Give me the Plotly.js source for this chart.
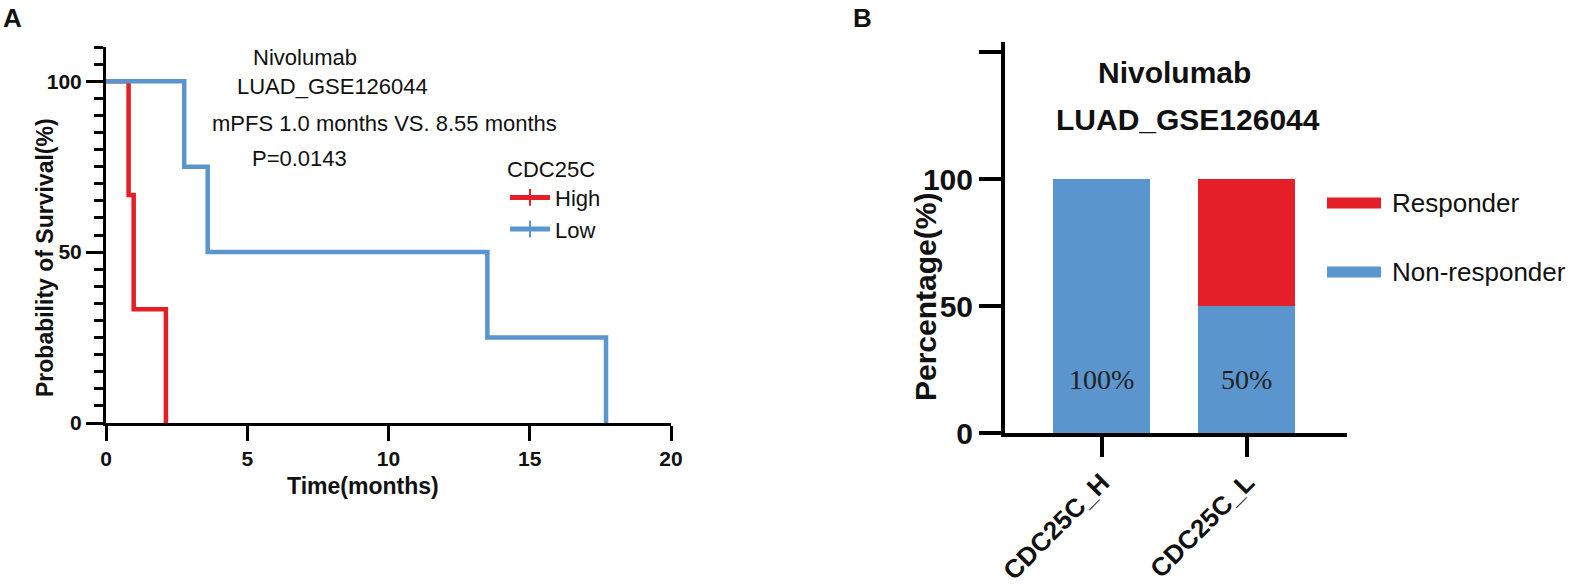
<!DOCTYPE html>
<html>
<head>
<meta charset="utf-8">
<script src="https://cdn.plot.ly/plotly-3.0.1.min.js"></script>
<style>
  html, body { margin: 0; padding: 0; background: #fff; }
  #chart { width: 1571px; height: 584px; }
</style>
</head>
<body>
<div id="chart"></div>
<script>
// Panel A: Kaplan-Meier, PFS by CDC25C expression
const highTime = [0, 0.8, 0.98, 2.12];
const highSurv = [100, 66.7, 33.3, 0];
const lowTime = [0, 2.77, 3.6, 13.5, 17.7];
const lowSurv = [100, 75, 50, 25, 0];
const kmGroups = ["High", "Low"];
const kmNotes = ["Nivolumab", "LUAD_GSE126044", "mPFS 1.0 months VS. 8.55 months", "P=0.0143"];

// Panel B: response rate by group
const groups = ["CDC25C_H", "CDC25C_L"];
const nonResponder = [100, 50];
const responder = [0, 50];
const seriesNames = ["Responder", "Non-responder"];

const RED = "#e41f27";
const BLUE = "#5a96cd";
const FONT = "Liberation Sans, Arial, sans-serif";

const W = 1571, H = 584;
const px = (x) => x / W;
const py = (y) => 1 - y / H;

const bold = (size) => ({ family: FONT, size, color: "#111", weight: "bold" });
const plain = (size) => ({ family: FONT, size, color: "#111" });

const traces = [
  {
    x: highTime, y: highSurv, name: kmGroups[0],
    type: "scatter", mode: "lines+markers", line: { shape: "hv", color: RED, width: 4.5 },
    marker: { symbol: "line-ns-open", size: 0.01, line: { color: RED, width: 3 } },
    cliponaxis: false, xaxis: "x", yaxis: "y",
  },
  {
    x: lowTime, y: lowSurv, name: kmGroups[1],
    type: "scatter", mode: "lines+markers", line: { shape: "hv", color: BLUE, width: 4.5 },
    marker: { symbol: "line-ns-open", size: 0.01, line: { color: BLUE, width: 3 } },
    cliponaxis: false, xaxis: "x", yaxis: "y",
  },
  {
    x: groups, y: nonResponder, name: seriesNames[1], type: "bar", width: 0.67,
    marker: { color: BLUE }, showlegend: false, xaxis: "x2", yaxis: "y2",
  },
  {
    x: groups, y: responder, name: seriesNames[0], type: "bar", width: 0.67,
    marker: { color: RED }, showlegend: false, xaxis: "x2", yaxis: "y2",
  },
];

const annotations = [
  { text: "A", x: px(12), y: py(18), font: bold(26) },
  { text: "B", x: px(862), y: py(18), font: bold(26) },
  // panel A notes
  { text: kmNotes[0], x: px(305), y: py(57), font: plain(22) },
  { text: kmNotes[1], x: px(332), y: py(87), font: plain(22) },
  { text: kmNotes[2], x: px(384), y: py(123), font: plain(22) },
  { text: kmNotes[3], x: px(299), y: py(158), font: plain(22) },
  { text: "Probability of Survival(%)", x: px(45), y: py(258), textangle: -90, font: bold(23) },
  { text: "Time(months)", x: px(363), y: py(486), font: bold(23) },
  // panel B titles
  { text: kmNotes[0], x: px(1174), y: py(72), font: bold(30) },
  { text: kmNotes[1], x: px(1188), y: py(120), font: bold(30) },
  { text: "Percentage(%)", x: px(925), y: py(297), textangle: -90, font: bold(30) },
  // panel B legend labels
  { text: seriesNames[0], x: px(1390), y: py(203), xanchor: "left", font: plain(26) },
  { text: seriesNames[1], x: px(1390), y: py(272), xanchor: "left", font: plain(26) },
].map((a) => ({ xref: "paper", yref: "paper", showarrow: false, xanchor: "center", yanchor: "middle", ...a }));

// bar value labels, from the data
groups.forEach((g, i) => {
  annotations.push({
    text: nonResponder[i] + "%", x: g, y: 21, xref: "x2", yref: "y2", showarrow: false,
    font: { family: "Liberation Serif, Times New Roman, serif", size: 28, color: "#222" },
  });
});

const shapes = [
  { type: "line", xref: "paper", yref: "paper", x0: px(1327), x1: px(1381), y0: py(203), y1: py(203), line: { color: RED, width: 11 } },
  { type: "line", xref: "paper", yref: "paper", x0: px(1327), x1: px(1381), y0: py(272), y1: py(272), line: { color: BLUE, width: 11 } },
];

const layout = {
  width: W, height: H,
  margin: { l: 0, r: 0, t: 0, b: 0 },
  paper_bgcolor: "white",
  plot_bgcolor: "white",
  barmode: "stack",
  showlegend: true,
  legend: {
    x: px(505), y: py(148), xanchor: "left", yanchor: "top", traceorder: "normal",
    font: plain(22), title: { text: "CDC25C", font: plain(22) },
    itemwidth: 40, itemsizing: "constant", bgcolor: "rgba(0,0,0,0)", borderwidth: 0,
  },
  xaxis: {
    domain: [px(106), px(671)], range: [0, 20], dtick: 5,
    showline: true, linecolor: "black", linewidth: 3, showgrid: false, zeroline: false,
    ticks: "outside", ticklen: 15, tickwidth: 3, tickcolor: "black", tickfont: bold(21),
    anchor: "y", automargin: false,
  },
  yaxis: {
    domain: [py(423), py(47)], range: [0, 110], tickvals: [0, 50, 100],
    showline: true, linecolor: "black", linewidth: 3, showgrid: false, zeroline: false,
    ticks: "outside", ticklen: 17, tickwidth: 3, tickcolor: "black", tickfont: bold(21),
    minor: { dtick: 5, ticks: "outside", ticklen: 9, tickwidth: 3, tickcolor: "black", showgrid: false },
    anchor: "x", automargin: false,
  },
  xaxis2: {
    domain: [px(1005), px(1347)], type: "category", range: [-0.667, 1.69],
    showline: true, linecolor: "black", linewidth: 4, showgrid: false, zeroline: false,
    ticks: "outside", ticklen: 20, tickwidth: 4, tickcolor: "black", tickangle: -45, tickfont: bold(26),
    anchor: "y2", automargin: false,
  },
  yaxis2: {
    domain: [py(433), py(42)], range: [0, 154],
    tickvals: [0, 50, 100, 150], ticktext: ["0", "50", "100", ""],
    showline: true, linecolor: "black", linewidth: 4, showgrid: false, zeroline: false,
    ticks: "outside", ticklen: 22, tickwidth: 4, tickcolor: "black", tickfont: bold(30),
    anchor: "x2", automargin: false,
  },
  annotations,
  shapes,
};

Plotly.newPlot("chart", traces, layout, { displayModeBar: false, staticPlot: true });
</script>
</body>
</html>
